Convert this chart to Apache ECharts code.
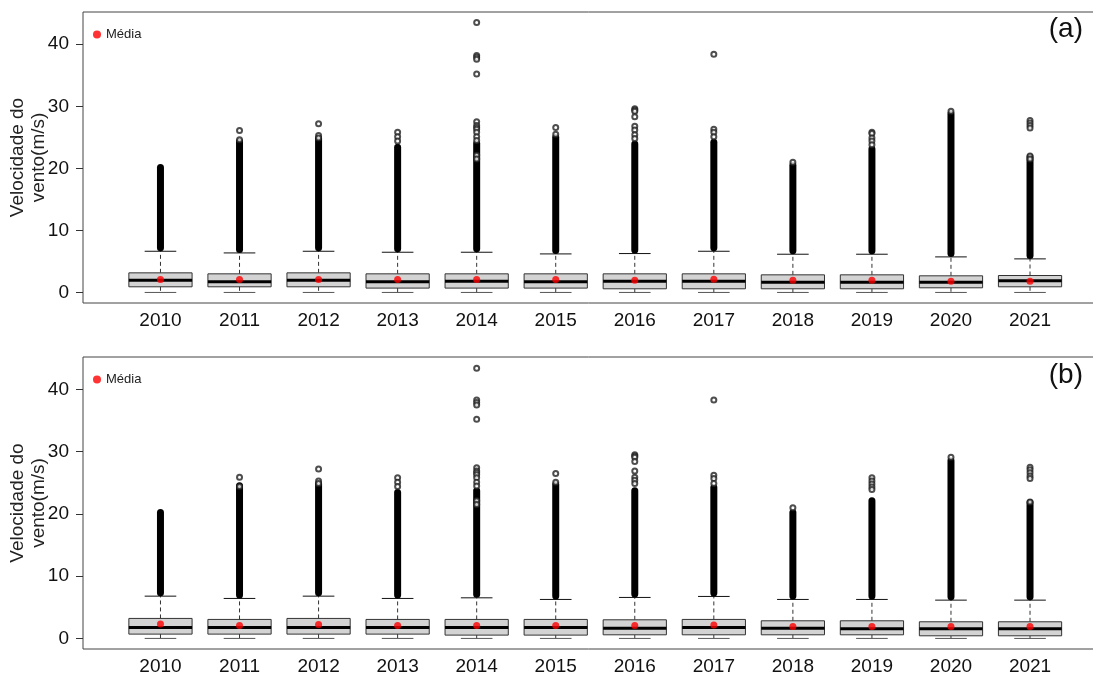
<!DOCTYPE html>
<html>
<head>
<meta charset="utf-8">
<script src="https://cdn.jsdelivr.net/npm/echarts@6/dist/echarts.min.js"></script>
<style>
  html, body { margin: 0; padding: 0; background: #fff; }
  #chart { width: 1093px; height: 674px; }
</style>
</head>
<body>
<div id="chart"></div>
<script>
// anos (categorias do eixo x)
const years = [2010, 2011, 2012, 2013, 2014, 2015, 2016, 2017, 2018, 2019, 2020, 2021]
const yTicks = [0, 10, 20, 30, 40]

// painel (a): estatísticas do boxplot
const lowA = [0, 0, 0, 0, 0, 0, 0, 0, 0, 0, 0, 0]
const q1A = [0.91, 0.91, 0.91, 0.7, 0.7, 0.7, 0.59, 0.59, 0.59, 0.59, 0.75, 0.91]
const medA = [1.98, 1.72, 1.98, 1.72, 1.82, 1.72, 1.82, 1.82, 1.66, 1.66, 1.66, 1.87]
const q3A = [3.16, 3.0, 3.16, 3.0, 3.0, 3.0, 3.0, 3.0, 2.84, 2.84, 2.68, 2.73]
const highA = [6.64, 6.37, 6.64, 6.48, 6.48, 6.21, 6.27, 6.64, 6.16, 6.16, 5.73, 5.41]
const meanA = [2.09, 2.09, 2.09, 2.09, 2.09, 2.09, 1.98, 2.14, 1.98, 1.98, 1.82, 1.82]
// topo da faixa densa de outliers
const denseTopA = [20.2, 24.4, 24.9, 23.5, 24.1, 25.1, 24.0, 24.3, 20.6, 23.2, 28.9, 21.9]
// outliers isolados [ano, valor]
const outliersA = [
  [2011, 26.1], [2011, 24.6],
  [2012, 27.2], [2012, 25.3], [2012, 24.9],
  [2013, 25.8], [2013, 25.1], [2013, 24.4],
  [2014, 43.5], [2014, 38.2], [2014, 37.9], [2014, 37.6], [2014, 35.2], [2014, 27.5], [2014, 26.9],
  [2014, 26.6], [2014, 26.3], [2014, 25.8], [2014, 25.1], [2014, 24.5], [2014, 22.1], [2014, 21.5],
  [2015, 26.6], [2015, 25.5],
  [2016, 29.6], [2016, 29.4], [2016, 29.2], [2016, 28.3], [2016, 26.8], [2016, 26.2], [2016, 25.4], [2016, 24.8],
  [2017, 38.4], [2017, 26.3], [2017, 25.8], [2017, 25.1],
  [2018, 21.0],
  [2019, 25.8], [2019, 25.6], [2019, 24.9], [2019, 24.4], [2019, 23.8],
  [2020, 29.2],
  [2021, 27.7], [2021, 27.3], [2021, 26.9], [2021, 26.5], [2021, 22.0], [2021, 21.5],
]

// painel (b)
const lowB = [0, 0, 0, 0, 0, 0, 0, 0, 0, 0, 0, 0]
const q1B = [0.69, 0.69, 0.69, 0.69, 0.53, 0.53, 0.58, 0.58, 0.58, 0.58, 0.42, 0.42]
const medB = [1.77, 1.77, 1.77, 1.77, 1.77, 1.77, 1.65, 1.77, 1.65, 1.54, 1.54, 1.54]
const q3B = [3.21, 3.05, 3.21, 3.05, 3.05, 3.05, 2.99, 3.05, 2.83, 2.83, 2.67, 2.67]
const highB = [6.79, 6.42, 6.79, 6.42, 6.52, 6.26, 6.58, 6.74, 6.26, 6.26, 6.15, 6.15]
const meanB = [2.3, 2.09, 2.25, 2.09, 2.09, 2.09, 2.09, 2.14, 1.93, 1.93, 1.93, 1.93]
const denseTopB = [20.3, 24.6, 24.9, 23.5, 23.8, 24.8, 23.8, 24.3, 20.3, 22.2, 28.6, 21.9]
const outliersB = [
  [2011, 25.9], [2011, 24.4],
  [2012, 27.2], [2012, 25.3], [2012, 24.9],
  [2013, 25.8], [2013, 25.1], [2013, 24.4],
  [2014, 43.4], [2014, 38.3], [2014, 37.9], [2014, 37.5], [2014, 35.2], [2014, 27.4], [2014, 26.9],
  [2014, 26.6], [2014, 26.3], [2014, 25.8], [2014, 25.1], [2014, 24.5], [2014, 22.1], [2014, 21.5],
  [2015, 26.5], [2015, 25.1],
  [2016, 29.5], [2016, 29.3], [2016, 29.1], [2016, 28.4], [2016, 26.9], [2016, 25.9], [2016, 25.4], [2016, 24.9],
  [2017, 38.3], [2017, 26.2], [2017, 25.7], [2017, 24.9],
  [2018, 21.0],
  [2019, 25.8], [2019, 25.3], [2019, 24.8], [2019, 24.3], [2019, 23.9],
  [2020, 29.1],
  [2021, 27.5], [2021, 27.1], [2021, 26.6], [2021, 26.1], [2021, 25.7], [2021, 21.9],
]

const FONT = 'Liberation Sans, Arial, sans-serif'
const LINE = '#333'

// desenha caixa, bigodes tracejados e mediana grossa (estilo R)
function renderBox(params, api) {
  const x = api.value(0)
  const w = api.size([1, 0])[0] * 0.8
  const pLow = api.coord([x, api.value(1)])
  const pQ1 = api.coord([x, api.value(2)])
  const pMed = api.coord([x, api.value(3)])
  const pQ3 = api.coord([x, api.value(4)])
  const pHigh = api.coord([x, api.value(5)])
  const cx = pMed[0]
  const dashed = { stroke: LINE, lineWidth: 1, lineDash: [4, 3] }
  const solid = { stroke: '#111', lineWidth: 1 }
  return {
    type: 'group',
    children: [
      { type: 'line', shape: { x1: cx, y1: pQ3[1], x2: cx, y2: pHigh[1] }, style: dashed },
      { type: 'line', shape: { x1: cx, y1: pQ1[1], x2: cx, y2: pLow[1] }, style: dashed },
      { type: 'line', shape: { x1: cx - w / 4, y1: pHigh[1], x2: cx + w / 4, y2: pHigh[1] }, style: solid },
      { type: 'line', shape: { x1: cx - w / 4, y1: pLow[1], x2: cx + w / 4, y2: pLow[1] }, style: { stroke: '#555', lineWidth: 1 } },
      { type: 'rect', shape: { x: cx - w / 2, y: pQ3[1], width: w, height: pQ1[1] - pQ3[1] }, style: { fill: '#d3d3d3', stroke: LINE, lineWidth: 1 } },
      { type: 'line', shape: { x1: cx - w / 2, y1: pMed[1], x2: cx + w / 2, y2: pMed[1] }, style: { stroke: '#000', lineWidth: 3 } },
    ],
  }
}

// faixa densa de outliers sobrepostos
function renderDense(params, api) {
  const x = api.value(0)
  const pLo = api.coord([x, api.value(1)])
  const pHi = api.coord([x, api.value(2)])
  return {
    type: 'rect',
    shape: { x: pLo[0] - 3.5, y: pHi[1] - 3, width: 7, height: pLo[1] - pHi[1] + 3, r: 3.5 },
    style: { fill: '#000' },
  }
}

function panelSeries(idx, low, q1, med, q3, high, mean, denseTop, outliers) {
  return [
    {
      type: 'custom',
      xAxisIndex: idx,
      yAxisIndex: idx,
      renderItem: renderBox,
      encode: { x: 0, y: [1, 2, 3, 4, 5] },
      data: years.map((y, i) => [i + 1, low[i], q1[i], med[i], q3[i], high[i]]),
      z: 2,
      silent: true,
    },
    {
      type: 'custom',
      xAxisIndex: idx,
      yAxisIndex: idx,
      renderItem: renderDense,
      encode: { x: 0, y: [1, 2] },
      data: years.map((y, i) => [i + 1, high[i], denseTop[i]]),
      z: 3,
      silent: true,
    },
    {
      type: 'scatter',
      xAxisIndex: idx,
      yAxisIndex: idx,
      symbol: 'emptyCircle',
      symbolSize: 5,
      itemStyle: { color: '#222', borderColor: '#222', borderWidth: 1 },
      data: outliers.map(o => [years.indexOf(o[0]) + 1, o[1]]),
      z: 4,
      silent: true,
    },
    {
      name: 'Média',
      type: 'scatter',
      xAxisIndex: idx,
      yAxisIndex: idx,
      symbol: 'circle',
      symbolSize: 7,
      itemStyle: { color: '#ff0000' },
      data: mean.map((m, i) => [i + 1, m]),
      z: 5,
    },
  ]
}

function xAxisFor(idx) {
  return {
    type: 'value',
    gridIndex: idx,
    min: 0.02,
    max: 12.98,
    axisLine: { show: false },
    axisTick: { show: false },
    splitLine: { show: false },
    axisLabel: {
      customValues: years.map((y, i) => i + 1),
      formatter: v => String(years[Math.round(v) - 1]),
      fontSize: 19,
      fontFamily: FONT,
      color: '#111',
      margin: 8,
    },
  }
}

function yAxisFor(idx) {
  return {
    type: 'value',
    gridIndex: idx,
    min: -1.7,
    max: 45.2,
    axisLine: { show: false },
    axisTick: { show: true, length: 7, customValues: yTicks, lineStyle: { color: LINE } },
    splitLine: { show: false },
    axisLabel: { customValues: yTicks, fontSize: 19, fontFamily: FONT, color: '#111', margin: 14 },
    name: 'Velocidade do\nvento(m/s)',
    nameLocation: 'middle',
    nameGap: 34,
    nameMoveOverlap: false,
    nameTextStyle: { fontSize: 19, fontFamily: FONT, color: '#222', lineHeight: 21 },
  }
}

const option = {
  backgroundColor: '#fff',
  animation: false,
  title: [
    { text: '(a)', right: 5, top: 10, textStyle: { fontSize: 28, fontWeight: 'normal', fontFamily: FONT, color: '#111' } },
    { text: '(b)', right: 5, top: 356, textStyle: { fontSize: 28, fontWeight: 'normal', fontFamily: FONT, color: '#111' } },
  ],
  legend: [
    { data: ['Média'], left: 88, top: 23, icon: 'circle', itemWidth: 8, itemHeight: 8, itemGap: 4, textStyle: { fontSize: 13, fontFamily: FONT, color: '#222' } },
    { data: ['Média'], left: 88, top: 368, icon: 'circle', itemWidth: 8, itemHeight: 8, itemGap: 4, textStyle: { fontSize: 13, fontFamily: FONT, color: '#222' } },
  ],
  grid: [
    { left: 83, top: 12, width: 1024.5, height: 291, show: true, borderColor: '#444', borderWidth: 1, outerBoundsMode: 'none', containLabel: false },
    { left: 83, top: 357, width: 1024.5, height: 292, show: true, borderColor: '#444', borderWidth: 1, outerBoundsMode: 'none', containLabel: false },
  ],
  xAxis: [xAxisFor(0), xAxisFor(1)],
  yAxis: [yAxisFor(0), yAxisFor(1)],
  series: [
    ...panelSeries(0, lowA, q1A, medA, q3A, highA, meanA, denseTopA, outliersA),
    ...panelSeries(1, lowB, q1B, medB, q3B, highB, meanB, denseTopB, outliersB),
  ],
}

const chart = echarts.init(document.getElementById('chart'))
chart.setOption(option)
</script>
</body>
</html>
